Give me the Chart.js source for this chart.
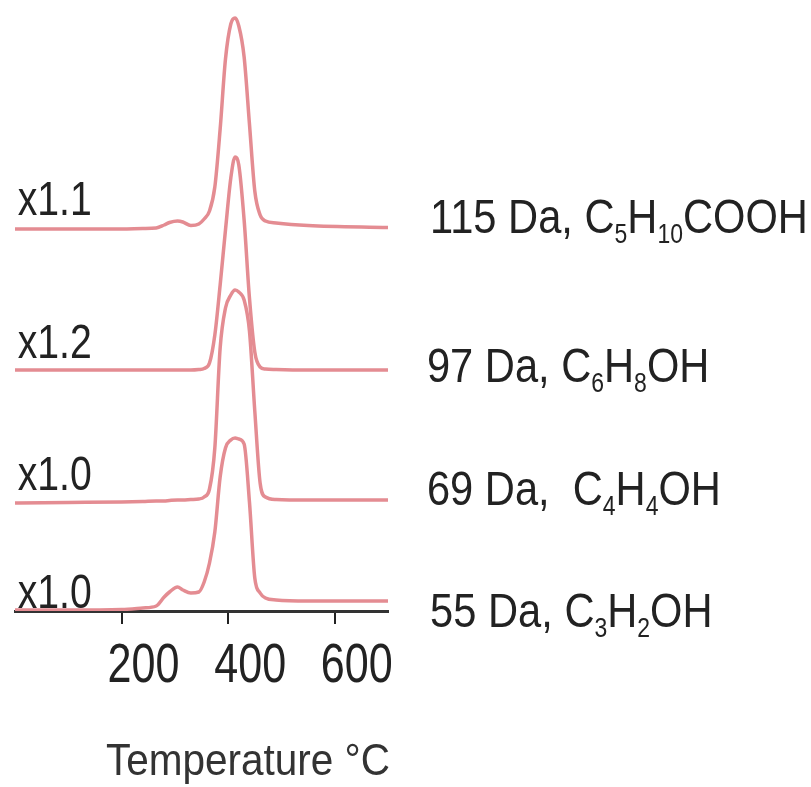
<!DOCTYPE html>
<html>
<head>
<meta charset="utf-8">
<script src="https://cdn.jsdelivr.net/npm/chart.js@4.4.1/dist/chart.umd.min.js"></script>
<style>
  html, body { margin: 0; padding: 0; background: #fff; }
  #wrap { width: 811px; height: 787px; position: relative; }
</style>
</head>
<body>
<div id="wrap"><canvas id="tpd"></canvas></div>
<script>
// Desorption temperature grid (°C), shared by every trace
const TEMPS = [0, 100, 200, 240, 265, 280, 290, 305, 315, 330, 345, 355, 365, 375, 385,
               395, 405, 413, 420, 430, 440, 450, 460, 470, 490, 550, 700];

// Signal above each trace's own baseline (arb. units), top trace first
const SIG_115 = [0, 0, 0, 0.5, 1, 4, 6.5, 8, 7, 3.5, 5, 10, 18, 42, 100,
                 170, 205, 211, 203, 172, 105, 38, 14, 8, 6, 3.5, 1.5];
const SIG_97  = [0, 0, 0, 0, 0, 0, 0, 0, 0, 0, 0.5, 1.5, 7, 35, 85,
                 140, 192, 213, 205, 150, 72, 18, 3, 1, 0.5, 0, 0];
const SIG_69  = [0, 0.5, 1, 1.5, 2, 2, 2.5, 3, 3, 3.5, 4, 6, 14, 55, 155,
                 195, 208, 213, 211, 203, 172, 92, 20, 6, 3.5, 3, 3];
const SIG_55  = [0, 0, 0.5, 2, 4, 13, 18, 23, 20, 17, 18, 28, 47, 78, 133,
                 162, 170, 172, 171, 166, 108, 32, 17, 12, 10, 9, 9];

// Vertical stacking offsets and labels, same order
const OFFSETS  = [382, 241, 108, 1];
const FACTORS  = ['x1.1', 'x1.2', 'x1.0', 'x1.0'];
const SPECIES  = ['115 Da, C_{5}H_{10}COOH', '97 Da, C_{6}H_{8}OH', '69 Da,  C_{4}H_{4}OH', '55 Da, C_{3}H_{2}OH'];
const X_TICKS  = [200, 400, 600];
const X_TITLE  = 'Temperature °C';

const SIGNALS = [SIG_115, SIG_97, SIG_69, SIG_55];
const LINE = 'rgb(228,140,146)';
const FONT = "'Liberation Sans', Arial, sans-serif";
const INK = '#222';

// label anchors in data units (x in °C, y in stacked units)
const FACTOR_POS  = [[5, 396], [5, 253], [5, 121], [5, 3]];
const SPECIES_POS = [[779, 378], [773, 229], [773, 106], [779, -16]];

// the lettering is narrow, so squeeze it horizontally
function squeezed(ctx, s, x, y, size, sx, align) {
  ctx.save();
  ctx.font = size + 'px ' + FONT;
  const w = ctx.measureText(s).width * sx;
  let x0 = x;
  if (align === 'center') x0 = x - w / 2;
  else if (align === 'right') x0 = x - w;
  ctx.translate(x0, y);
  ctx.scale(sx, 1);
  ctx.fillText(s, 0, 0);
  ctx.restore();
  return w;
}

function drawFormula(ctx, text, x, y) {
  // "_{..}" marks a subscript
  const parts = text.split(/(_\{[^}]*\})/).filter(Boolean);
  let cx = x;
  for (const p of parts) {
    const sub = p.startsWith('_{');
    const s = sub ? p.slice(2, -1) : p;
    cx += sub ? squeezed(ctx, s, cx, y + 10, 28, 0.82) : squeezed(ctx, s, cx, y, 49, 0.85);
  }
}

const labelPlugin = {
  id: 'stackLabels',
  afterDraw(chart) {
    const { ctx, scales: { x, y } } = chart;
    ctx.save();
    ctx.fillStyle = INK;
    ctx.textBaseline = 'alphabetic';
    ctx.textAlign = 'left';
    FACTORS.forEach((f, i) => {
      squeezed(ctx, f, x.getPixelForValue(FACTOR_POS[i][0]), y.getPixelForValue(FACTOR_POS[i][1]), 49, 0.8);
    });
    SPECIES.forEach((s, i) => {
      drawFormula(ctx, s, x.getPixelForValue(SPECIES_POS[i][0]), y.getPixelForValue(SPECIES_POS[i][1]));
    });
    // tick labels sit a little right of their tick marks
    x.ticks.forEach(t => {
      squeezed(ctx, String(t.value), x.getPixelForValue(t.value) + 22, x.top + 71, 56, 0.77, 'center');
    });
    ctx.fillStyle = '#333';
    squeezed(ctx, X_TITLE, x.right + 2, x.top + 164, 45, 0.9, 'right');
    ctx.restore();
  }
};

const datasets = SIGNALS.map((sig, i) => ({
  data: TEMPS.map((t, k) => ({ x: t, y: sig[k] + OFFSETS[i] })),
  borderColor: LINE,
  borderWidth: 3.5,
  pointRadius: 0,
  cubicInterpolationMode: 'monotone',
  fill: false,
}));

new Chart(document.getElementById('tpd'), {
  type: 'line',
  data: { datasets },
  plugins: [labelPlugin],
  options: {
    responsive: true,
    maintainAspectRatio: false,
    animation: false,
    layout: { padding: { left: 15, right: 423, top: 11, bottom: 163 } },
    plugins: { legend: { display: false }, tooltip: { enabled: false } },
    scales: {
      y: { display: false, min: 0, max: 600 },
      x: {
        type: 'linear', min: 0, max: 700,
        afterBuildTicks: s => { s.ticks = X_TICKS.map(v => ({ value: v })); },
        border: { display: true, color: '#333', width: 3 },
        grid: { drawOnChartArea: false, drawTicks: true, tickLength: 13, color: '#222', lineWidth: 2 },
        ticks: { display: false },
        title: { display: false }
      }
    }
  }
});
</script>
</body>
</html>
